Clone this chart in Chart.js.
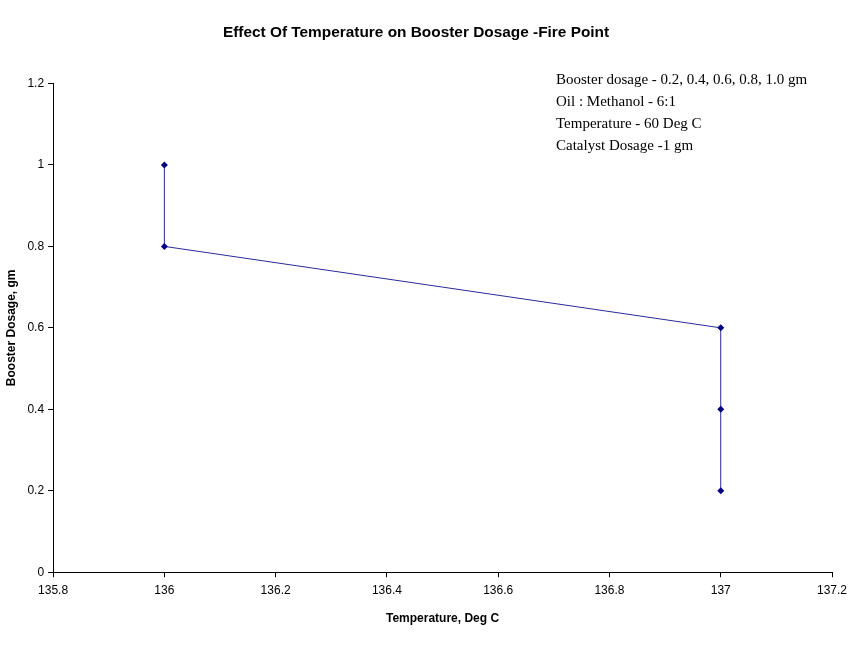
<!DOCTYPE html>
<html>
<head>
    <meta charset="UTF-8">
    <title>Effect Of Temperature on Booster Dosage -Fire Point</title>
    <script src="https://cdn.jsdelivr.net/npm/chart.js"></script>
    <style>
        html, body { margin: 0; padding: 0; background: #fff; }
        #wrap { width: 868px; height: 656px; }
    </style>
</head>
<body>
    <div id="wrap"><canvas id="chartCanvas" width="868" height="656"></canvas></div>

    <script>
        // donnees
        const temperatures = [137, 137, 137, 136, 136];
        const dosages = [0.2, 0.4, 0.6, 0.8, 1.0];
        const noteLines = [
            "Booster dosage - 0.2, 0.4, 0.6, 0.8, 1.0 gm",
            "Oil : Methanol - 6:1",
            "Temperature - 60 Deg C",
            "Catalyst Dosage -1 gm"
        ];

        const points = temperatures.map((t, i) => ({ x: t, y: dosages[i] }));

        // bloc de texte en haut a droite
        const notePlugin = {
            id: "notes",
            afterDraw(chart) {
                const ctx = chart.ctx;
                ctx.save();
                ctx.font = "15px 'Liberation Serif', 'Times New Roman', serif";
                ctx.fillStyle = "#000";
                ctx.textBaseline = "middle";
                ctx.textAlign = "left";
                noteLines.forEach((line, i) => {
                    ctx.fillText(line, 556, 80 + i * 22);
                });
                ctx.restore();
            }
        };

        Chart.defaults.font.family = "'Liberation Sans', Arial, sans-serif";
        Chart.defaults.color = "#000";

        new Chart(document.getElementById("chartCanvas"), {
            type: "scatter",
            data: {
                datasets: [{
                    data: points,
                    showLine: true,
                    borderColor: "#2a2a96",
                    borderWidth: 1,
                    backgroundColor: "#000080",
                    pointBackgroundColor: "#000080",
                    pointBorderColor: "#000080",
                    pointStyle: "rectRot",
                    pointRadius: 3.5,
                    pointBorderWidth: 0
                }]
            },
            options: {
                responsive: false,
                animation: false,
                layout: { padding: { left: 0, right: 36, top: 0, bottom: 26 } },
                plugins: {
                    legend: { display: false },
                    tooltip: { enabled: false },
                    title: {
                        display: true,
                        text: "Effect Of Temperature on Booster Dosage -Fire Point",
                        font: { size: 15.4, weight: "bold" },
                        color: "#000",
                        padding: { top: 24, bottom: 41 }
                    }
                },
                scales: {
                    x: {
                        type: "linear",
                        min: 135.8,
                        max: 137.2,
                        ticks: {
                            stepSize: 0.2,
                            font: { size: 12 },
                            padding: 6,
                            callback: v => String(+v.toFixed(1))
                        },
                        grid: { drawOnChartArea: false, drawTicks: true, tickLength: 5, color: "#000" },
                        border: { color: "#000", width: 1 },
                        title: {
                            display: true,
                            text: "Temperature, Deg C",
                            font: { size: 12, weight: "bold" },
                            padding: { top: 8 }
                        }
                    },
                    y: {
                        min: 0,
                        max: 1.2,
                        ticks: {
                            stepSize: 0.2,
                            font: { size: 12 },
                            padding: 4,
                            callback: v => String(+v.toFixed(1))
                        },
                        grid: { drawOnChartArea: false, drawTicks: true, tickLength: 5, color: "#000" },
                        border: { color: "#000", width: 1 },
                        title: {
                            display: true,
                            text: "Booster Dosage, gm",
                            font: { size: 12, weight: "bold" },
                            padding: { bottom: 5 }
                        }
                    }
                }
            },
            plugins: [notePlugin]
        });
    </script>
</body>
</html>
